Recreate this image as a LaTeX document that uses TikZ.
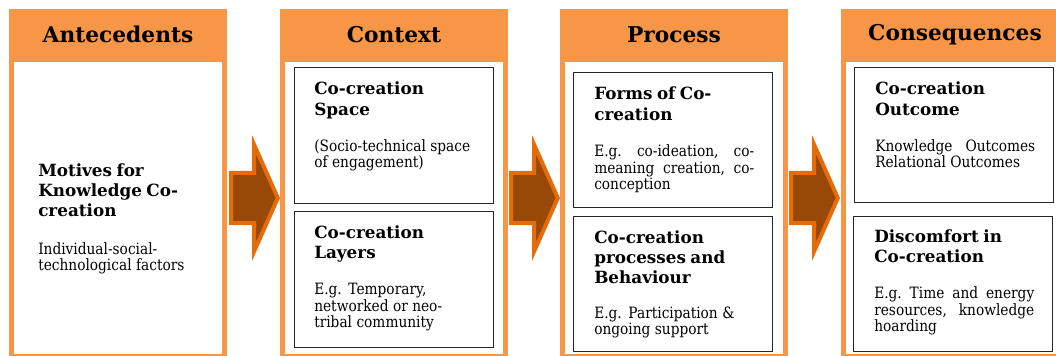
\documentclass[tikz,border=0pt]{standalone}
\usepackage{fontspec}
\setmainfont{DejaVu Serif}
\newfontfamily\bodyserif{DejaVu Serif}[FakeStretch=0.88]
\usepackage{tikz}
\usetikzlibrary{positioning}

\definecolor{headorange}{HTML}{F79646}
\definecolor{arrowbrown}{HTML}{984807}
\definecolor{arroworange}{HTML}{E46C0A}

\newcommand{\headfont}{\fontsize{16.3}{19}\selectfont\bfseries}
\newcommand{\titlefont}{\fontsize{12.6}{15.2}\selectfont\bfseries}
\newcommand{\bodyfont}{\fontsize{11.7}{13.1}\selectfont\bodyserif\mdseries}

\tikzset{
  colhead/.style={fill=headorange, anchor=north, inner sep=0pt, minimum height=38.25pt, font=\headfont},
  itembox/.style={draw=black!85, line width=0.8pt, fill=white, anchor=north west, minimum width=149.25pt, minimum height=102pt, inner sep=0pt},
  itemtext/.style={anchor=base west, text width=120pt, align=left, inner sep=0pt},
  flowarrow/.style={fill=arrowbrown, draw=arroworange, line width=3pt, line join=miter},
}

\begin{document}
\begin{tikzpicture}[x=0.75pt,y=-0.75pt]
\useasboundingbox (0,0) rectangle (1056,356);

% Draw the four columns with their headers
\foreach \name/\x/\w/\head in {ante/9/218/Antecedents, ctx/280/228/Context, proc/560/228/Process, cons/841/228/Consequences}{
  \fill[headorange] (\x,9) rectangle (\x+\w,358);
  \fill[white] (\x+5,62) rectangle (\x+\w-5,354);
  \node[colhead, minimum width=\w*0.75pt] (\name) at (\x+\w/2,9) {\head};
}

% Antecedents
\node[itemtext] (motive) at (38,176) {\titlefont Motives for\\Knowledge Co-\\creation\\[15.4pt]
  \bodyfont Individual-social-\\technological factors};

% Context
\node[itembox] (space) at (294,67) {};
\node[itemtext] (spacetext) at ([shift={(20,28)}]space.north west) {\titlefont Co-creation\\Space\\[14pt]
  \bodyfont (Socio-technical space\\of engagement)};
\node[itembox] (layers) at (294,211) {};
\node[itemtext] (layerstext) at ([shift={(20,27)}]layers.north west) {\titlefont Co-creation\\Layers\\[14pt]
  \bodyfont E.g. Temporary,\\networked or neo-\\tribal community};

% Process
\node[itembox, minimum height=101.25pt] (forms) at (573,72) {};
\node[itemtext] (formstext) at ([shift={(21,28)}]forms.north west) {\titlefont Forms of Co-\\creation\\[14pt]
  \bodyfont E.g.\hfill co-ideation,\hfill co-\\meaning\hfill creation,\hfill co-\\conception};
\node[itembox, minimum height=101.25pt] (behave) at (573,216) {};
\node[itemtext] (behavetext) at ([shift={(21,27)}]behave.north west) {\titlefont Co-creation\\processes and\\Behaviour\\[13pt]
  \bodyfont E.g. Participation \&\\ongoing support};

% Consequences
\node[itembox, minimum height=101.25pt] (outcome) at (854,67) {};
\node[itemtext] (outcometext) at ([shift={(21,28)}]outcome.north west) {\titlefont Co-creation\\Outcome\\[14pt]
  \bodyfont Knowledge\hfill Outcomes\\Relational Outcomes};
\node[itembox, minimum height=101.25pt] (discomf) at (853,216) {};
\node[itemtext] (discomftext) at ([shift={(21,26)}]discomf.north west) {\titlefont Discomfort in\\Co-creation\\[14pt]
  \bodyfont E.g.\hfill Time\hfill and\hfill energy\\resources,\hfill knowledge\\hoarding};

% Block arrows between the columns
\foreach \xa in {229,509,789}{
  \draw[flowarrow] (\xa+2,173) -- (\xa+25,173) -- (\xa+25,144.4) -- (\xa+48.8,198)
    -- (\xa+25,251.6) -- (\xa+25,223) -- (\xa+2,223) -- cycle;
}
\end{tikzpicture}
\end{document}
